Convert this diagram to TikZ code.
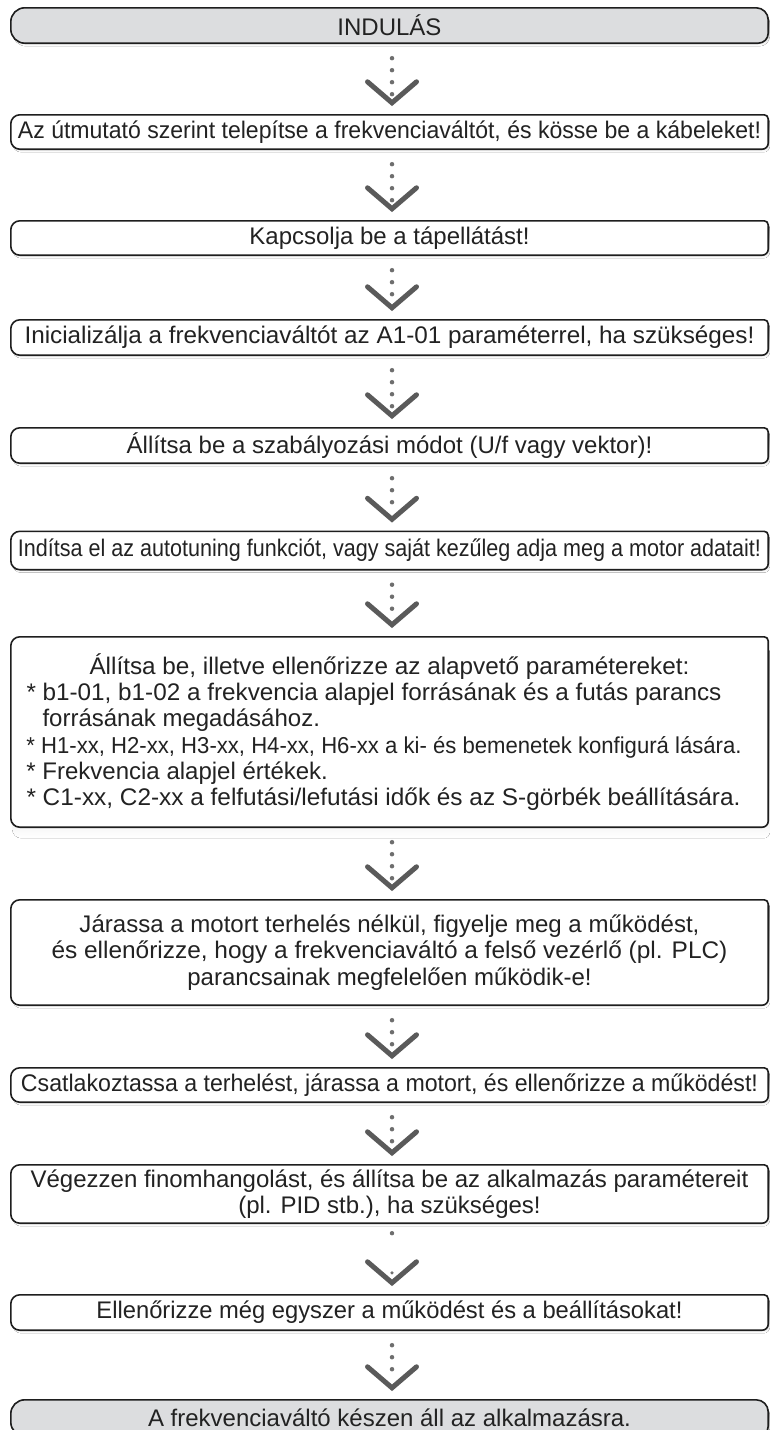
\documentclass[tikz,border=0pt]{standalone}
\usepackage{fontspec}
\usepackage{graphicx}
\setmainfont{Liberation Sans}
\usetikzlibrary{backgrounds}
\definecolor{txt}{HTML}{222222}
\definecolor{edge}{HTML}{1E1E1E}
\definecolor{termfill}{HTML}{DCDDDF}
\definecolor{shade}{HTML}{8C8C8C}
\definecolor{arrowc}{HTML}{5A5A5A}
\definecolor{dotc}{HTML}{6E6E6E}
\newcommand\fitw[2]{\resizebox{#1}{\height}{#2}}
\newcommand\procpath[1]{([xshift=9pt]#1.north west) -- ([xshift=-4pt]#1.north east) arc[start angle=90,end angle=0,radius=4pt] -- ([yshift=6pt]#1.south east) arc[start angle=0,end angle=-90,radius=6pt] -- ([xshift=9pt]#1.south west) arc[start angle=270,end angle=180,radius=9pt] -- ([yshift=-9pt]#1.north west) arc[start angle=180,end angle=90,radius=9pt] -- cycle}
\newcommand\termpath[1]{([xshift=14pt]#1.north west) -- ([xshift=-12pt]#1.north east) arc[start angle=90,end angle=0,radius=12pt] -- ([yshift=10pt]#1.south east) arc[start angle=0,end angle=-90,radius=10pt] -- ([xshift=14pt]#1.south west) arc[start angle=270,end angle=180,radius=14pt] -- ([yshift=-14pt]#1.north west) arc[start angle=180,end angle=90,radius=14pt] -- cycle}
\newcommand\drawproc[2]{%
  \fill[shade,transform canvas={xshift=1.5pt,yshift=-#2}] \procpath{#1};
  \filldraw[fill=white,draw=edge,line width=1.6pt] \procpath{#1};}
\newcommand\drawterm[1]{%
  \fill[shade,transform canvas={xshift=1.5pt,yshift=-3pt}] \termpath{#1};
  \filldraw[fill=termfill,draw=edge,line width=1.6pt] \termpath{#1};}
\newcommand\conn[2]{%
  \draw[chev] ([xshift=-22pt,yshift=33pt]#2.north) -- ([xshift=2.5pt,yshift=12pt]#2.north) -- ([xshift=27pt,yshift=33pt]#2.north);
  \draw[dotline] ([xshift=2.5pt,yshift=-15pt]#1.south) -- ([xshift=2.5pt,yshift=19pt]#2.north);}
\begin{document}
\begin{tikzpicture}[x=1pt,y=1pt,
  box/.style={inner sep=0pt, minimum width=757pt, text=txt,
    font=\fontsize{24}{26.5}\selectfont, align=center},
  dotline/.style={draw=dotc, line width=4.5pt, line cap=round, dash pattern=on 0pt off 12pt},
  chev/.style={draw=arrowc, line width=5pt, line cap=round, line join=miter}]
\useasboundingbox (0,0) rectangle (770,-1430);

\node[box, minimum height=35pt] (b1) at (389.5,-25.5) {INDULÁS};
\node[box, minimum height=34pt] (b2) at (389.5,-132) {\fitw{743pt}{Az útmutató szerint telepítse a frekvenciaváltót, és kösse be a kábeleket!}};
\node[box, minimum height=34pt] (b3) at (389.5,-238) {Kapcsolja be a tápellátást!};
\node[box, minimum height=35pt] (b4) at (389.5,-337.5) {\fitw{730pt}{Inicializálja a frekvenciaváltót az A1-01 paraméterrel, ha szükséges!}};
\node[box, minimum height=35pt] (b5) at (389.5,-445.5) {Állítsa be a szabályozási módot (U/f vagy vektor)!};
\node[box, minimum height=38pt] (b6) at (389.5,-550.5) {\fitw{743pt}{Indítsa el az autotuning funkciót, vagy saját kezűleg adja meg a motor adatait!}};
\node[box, minimum height=190pt] (b7) at (389.5,-732) {\raisebox{4.5pt}{\begin{minipage}{726pt}\fontsize{24}{26.2}\selectfont\centering \fitw{600pt}{Állítsa be, illetve ellenőrizze az alapvető paramétereket:}\par\raggedright
\fitw{695pt}{* b1-01, b1-02 a frekvencia alapjel forrásának és a futás parancs}\\
\phantom{*} forrásának megadásához.\\
\fitw{715pt}{\fontsize{23}{26.2}\selectfont * H1-xx, H2-xx, H3-xx, H4-xx, H6-xx a ki- és bemenetek konfigurá lására.}\\
{*} Frekvencia alapjel értékek.\\
\fitw{714pt}{* C1-xx, C2-xx a felfutási/lefutási idők és az S-görbék beállítására.}\end{minipage}}};
\node[box, minimum height=105pt] (b8) at (389.5,-952.5) {\fitw{620pt}{Járassa a motort terhelés nélkül, figyelje meg a működést,}\\ \fitw{676pt}{és ellenőrizze, hogy a frekvenciaváltó a felső vezérlő (pl. PLC)}\\ parancsainak megfelelően működik-e!};
\node[box, minimum height=34pt] (b9) at (389.5,-1085) {\fitw{737pt}{Csatlakoztassa a terhelést, járassa a motort, és ellenőrizze a működést!}};
\node[box, minimum height=58pt] (b10) at (389.5,-1194) {Végezzen finomhangolást, és állítsa be az alkalmazás paramétereit\\ (pl. PID stb.), ha szükséges!};
\node[box, minimum height=35pt] (b11) at (389.5,-1312.5) {\fitw{586pt}{Ellenőrizze még egyszer a működést és a beállításokat!}};
\node[box, minimum height=36pt] (b12) at (389.5,-1418) {A frekvenciaváltó készen áll az alkalmazásra.};

\begin{scope}[on background layer]
\fill[white] (0,0) rectangle (770,-1430);
\drawterm{b1}
\drawproc{b2}{3pt}
\drawproc{b3}{3pt}
\drawproc{b4}{3pt}
\drawproc{b5}{3pt}
\drawproc{b6}{3pt}
\drawproc{b7}{11pt}
\drawproc{b8}{3pt}
\drawproc{b9}{3pt}
\drawproc{b10}{3pt}
\drawproc{b11}{3pt}
\drawterm{b12}
\end{scope}

\conn{b1}{b2}
\conn{b2}{b3}
\conn{b3}{b4}
\conn{b4}{b5}
\conn{b5}{b6}
\conn{b6}{b7}
\conn{b7}{b8}
\conn{b8}{b9}
\conn{b9}{b10}
\draw[chev] ([xshift=-22pt,yshift=33pt]b11.north) -- ([xshift=2.5pt,yshift=12pt]b11.north) -- ([xshift=27pt,yshift=33pt]b11.north);
\fill[dotc] ([xshift=2.5pt,yshift=-10pt]b10.south) circle[radius=2.2pt];
\fill[dotc] ([xshift=2.5pt,yshift=22pt]b11.north) circle[radius=1.8pt];
\conn{b11}{b12}
\end{tikzpicture}
\end{document}
